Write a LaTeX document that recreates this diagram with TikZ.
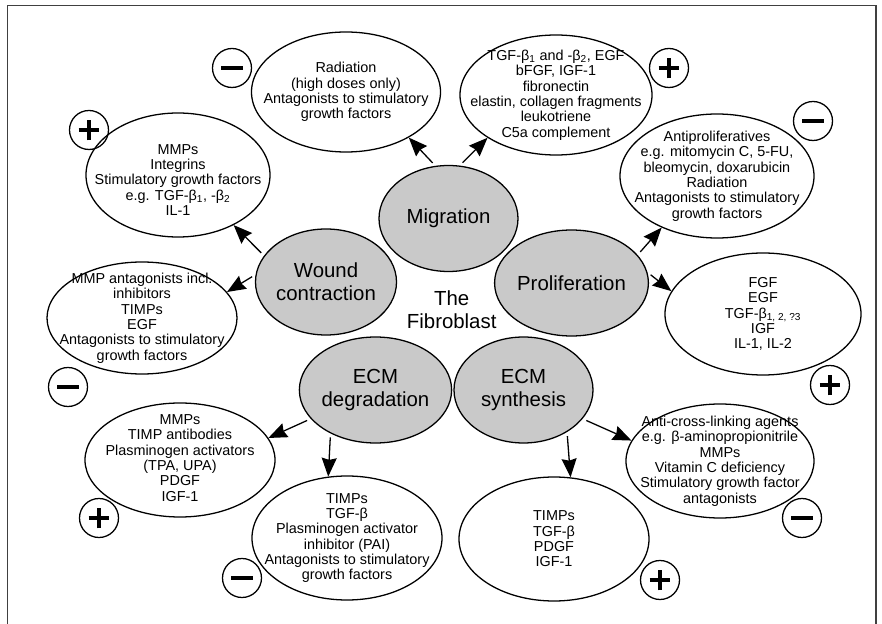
\documentclass[tikz,border=0pt]{standalone}
\usepackage{fontspec}
\setmainfont{Liberation Sans}
\usetikzlibrary{arrows.meta, shapes.geometric}
\definecolor{cellgray}{gray}{0.79}

\begin{document}
\begin{tikzpicture}[x=0.03cm, y=-0.03cm]
	\tikzstyle{cell}=[ellipse, draw, fill=cellgray, line width=1.1pt, minimum width=4.17cm, minimum height=3.18cm, inner sep=0pt, align=center, font=\fontsize{17.4}{19.6}\selectfont]
	\tikzstyle{bubble}=[ellipse, draw, line width=1.1pt, inner sep=0pt]
	\tikzstyle{lines}=[align=center, inner sep=0pt, font=\fontsize{12.3}{13.1}\selectfont]
	\tikzstyle{sign}=[circle, draw, line width=1.1pt, minimum size=1.17cm, inner sep=0pt]
	\tikzstyle{plussign}=[sign, path picture={\draw[line width=2.6pt] (path picture bounding box.center) +(-0.31cm,0) -- +(0.31cm,0) (path picture bounding box.center) +(0,-0.31cm) -- +(0,0.31cm);}]
	\tikzstyle{minussign}=[sign, path picture={\draw[line width=2.6pt] (path picture bounding box.center) +(-0.32cm,0) -- +(0.32cm,0);}]
	\tikzstyle{arr}=[line width=1.1pt, -{Stealth[length=0.56cm, width=0.45cm, inset=0.06cm]}, shorten <=0.12cm]

	\useasboundingbox (0,0) rectangle (882,624);
	\draw[black!75, line width=1.7pt] (7.5,624) -- (7.5,5.5) -- (876,5.5) -- (876,624);

	% the five activities of the cell
	\draw node[cell] at (448.5, 218.5) (mig) {Migration};
	\draw node[cell] at (326, 282) (wound) {Wound\\contraction};
	\draw node[cell] at (571.5, 283) (prolif) {Proliferation};
	\draw node[cell] at (375.5, 390) (degr) {ECM\\degradation};
	\draw node[cell] at (523.5, 390) (synth) {ECM\\synthesis};
	\draw node[align=center, font=\fontsize{17.4}{19.6}\selectfont] at (451.7, 310) (fib) {The\\Fibroblast};

	% factors around them
	\draw node[bubble, minimum width=5.67cm, minimum height=3.6cm] at (346, 92) (rad) {};
	\draw node[lines] at (rad) (rad-t) {Radiation\\(high doses only)\\Antagonists to stimulatory\\growth factors};

	\draw node[bubble, minimum width=5.76cm, minimum height=3.6cm] at (556, 95) (tgf) {};
	\draw node[lines] at (tgf) (tgf-t) {TGF-β\textsubscript{1} and -β\textsubscript{2}, EGF\\bFGF, IGF-1\\fibronectin\\elastin, collagen fragments\\leukotriene\\C5a complement};

	\draw node[bubble, minimum width=5.52cm, minimum height=3.72cm] at (178, 175) (integ) {};
	\draw node[lines] at (178, 180) (integ-t) {MMPs\\Integrins\\Stimulatory growth factors\\e.g. TGF-β\textsubscript{1}, -β\textsubscript{2}\\IL-1};

	\draw node[bubble, minimum width=5.7cm, minimum height=3.36cm] at (142, 318) (antag) {};
	\draw node[lines] at (antag) (antag-t) {MMP antagonists incl.\\inhibitors\\TIMPs\\EGF\\Antagonists to stimulatory\\growth factors};

	\draw node[bubble, minimum width=5.82cm, minimum height=3.72cm] at (717, 176) (antipro) {};
	\draw node[lines] at (antipro) (antipro-t) {Antiproliferatives\\e.g. mitomycin C, 5-FU,\\bleomycin, doxarubicin\\Radiation\\Antagonists to stimulatory\\growth factors};

	\draw node[bubble, minimum width=5.88cm, minimum height=3.66cm] at (763, 314) (fgf) {};
	\draw node[lines] at (fgf) (fgf-t) {FGF\\EGF\\TGF-β\textsubscript{1, 2, ?3}\\IGF\\IL-1, IL-2};

	\draw node[bubble, minimum width=5.7cm, minimum height=3.42cm] at (180, 460) (antib) {};
	\draw node[lines] at (180, 458) (antib-t) {MMPs\\TIMP antibodies\\Plasminogen activators\\(TPA, UPA)\\PDGF\\IGF-1};

	\draw node[bubble, minimum width=5.7cm, minimum height=3.72cm] at (347, 538) (pai) {};
	\draw node[lines] at (pai) (pai-t) {TIMPs\\TGF-β\\Plasminogen activator\\inhibitor (PAI)\\Antagonists to stimulatory\\growth factors};

	\draw node[bubble, minimum width=5.7cm, minimum height=3.72cm] at (554, 539) (timps) {};
	\draw node[lines] at (timps) (timps-t) {TIMPs\\TGF-β\\PDGF\\IGF-1};

	\draw node[bubble, minimum width=5.64cm, minimum height=3.42cm] at (720, 461) (cross) {};
	\draw node[lines] at (cross) (cross-t) {Anti-cross-linking agents\\e.g. β-aminopropionitrile\\MMPs\\Vitamin C deficiency\\Stimulatory growth factor\\antagonists};

	% stimulating / inhibiting marks
	\draw node[minussign] at (232, 68) (rad-s) {};
	\draw node[plussign] at (669, 68) (tgf-s) {};
	\draw node[plussign] at (89, 130) (integ-s) {};
	\draw node[minussign] at (68, 387) (antag-s) {};
	\draw node[minussign] at (813, 121) (antipro-s) {};
	\draw node[plussign] at (830, 385) (fgf-s) {};
	\draw node[plussign] at (99, 518) (antib-s) {};
	\draw node[minussign] at (242, 578) (pai-s) {};
	\draw node[plussign] at (660, 580) (timps-s) {};
	\draw node[minussign] at (802, 518) (cross-s) {};

	\draw[arr] (mig.104) -- (rad.-36);
	\draw[arr] (mig.78) -- (tgf.212);
	\draw[arr] (wound.157) -- (integ.-42);
	\draw[arr] (wound.174) -- (antag.17);
	\draw[arr] (prolif.23) -- (antipro.223);
	\draw[arr] (prolif.8) -- (fgf.166);
	\draw[arr] (degr.204) -- (antib.14);
	\draw[arr] (degr.224) -- (pai.107);
	\draw[arr] (synth.-44) -- (timps.75);
	\draw[arr] (synth.-26) -- (cross.167);
\end{tikzpicture}
\end{document}
